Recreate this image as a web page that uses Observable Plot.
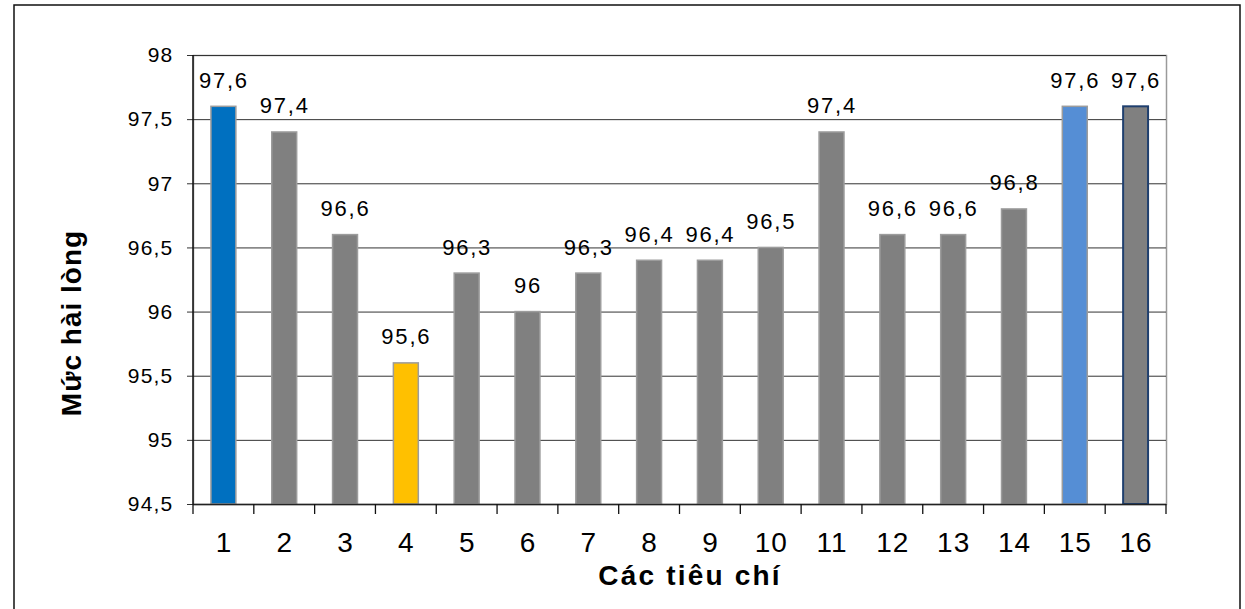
<!DOCTYPE html>
<html><head><meta charset="utf-8">
<script src="https://cdn.jsdelivr.net/npm/d3@7"></script>
<script src="https://cdn.jsdelivr.net/npm/@observablehq/plot@0.6"></script>
<style>
body{margin:0;background:#fff}
#chart svg{font-family:"Liberation Sans",Arial,sans-serif;display:block}
</style>
</head><body><div id="chart"></div>
<script>
const categories = ["1","2","3","4","5","6","7","8","9","10","11","12","13","14","15","16"];
const values = [97.6, 97.4, 96.6, 95.6, 96.3, 96.0, 96.3, 96.4, 96.4, 96.5, 97.4, 96.6, 96.6, 96.8, 97.6, 97.6];
const yTicks = [94.5, 95, 95.5, 96, 96.5, 97, 97.5, 98];
const yTitle = "Mức hài lòng";
const xTitle = "Các tiêu chí";

const fillFor = {"1": "#0070C0", "4": "#FFC000", "15": "#558ED5"};
const strokeFor = {"16": "#1F3F6E"};
const data = categories.map((c, i) => ({c, v: values[i]}));
const fmt = d => String(d).replace(".", ",");

const plot = Plot.plot({
  width: 1245, height: 609,
  marginLeft: 193, marginRight: 79, marginTop: 55, marginBottom: 105,
  style: {fontFamily: '"Liberation Sans", Arial, sans-serif', background: "#fff", color: "#000"},
  x: {domain: categories, paddingInner: 0.59, paddingOuter: 0.295, round: false, label: null},
  y: {domain: [94.5, 98], label: null},
  marks: [
    Plot.frame({stroke: "#9a9a9a", strokeWidth: 1.5}),
    Plot.ruleY(yTicks, {stroke: "#333", strokeWidth: 1}),
    Plot.axisY({ticks: yTicks, tickFormat: fmt, tickSize: 6, tickPadding: 14, fontSize: 21, stroke: "#333", className: "yax"}),
    Plot.axisX({tickSize: 0, tickPadding: 28, fontSize: 28, className: "xax"}),
    Plot.barY(data, {
      x: "c", y1: 94.5, y2: "v",
      fill: d => fillFor[d.c] || "#808080",
      stroke: d => strokeFor[d.c] || "#9c9c9c",
      strokeWidth: d => strokeFor[d.c] ? 2 : 1.5
    }),
    Plot.text(data, {x: "c", y: "v", text: d => fmt(d.v), lineAnchor: "bottom", dy: -19, fontSize: 22, className: "vals"}),
    Plot.ruleY([94.5], {stroke: "#222", strokeWidth: 1.5}),
    Plot.text([xTitle], {frameAnchor: "bottom", lineAnchor: "bottom", dx: 10, dy: 80, fontSize: 28, fontWeight: "bold", className: "xt"})
  ]
});

const svg = d3.select(plot);
svg.selectAll(".vals").attr("letter-spacing", "1.8px");
svg.selectAll(".xax").attr("letter-spacing", "1px");
svg.selectAll(".yax").attr("letter-spacing", "1.2px");
svg.selectAll(".xt").attr("letter-spacing", "2.2px");

// y axis title
svg.append("text").text(yTitle)
  .attr("transform", "translate(81,323) rotate(-90)")
  .attr("text-anchor", "middle")
  .attr("font-size", 28).attr("font-weight", "bold").attr("letter-spacing", "1px")
  .attr("fill", "#000");

// left axis line and band-boundary ticks on x axis
const sx = plot.scale("x");
const sy = plot.scale("y");
const gap = (sx.step - sx.bandwidth) / 2;
const bounds = categories.map(c => sx.apply(c) - gap);
bounds.push(sx.apply(categories[categories.length - 1]) + sx.bandwidth + gap);
const x0 = bounds[0];
const yb = sy.apply(94.5), yt = sy.apply(98);
svg.append("line").attr("x1", x0).attr("x2", x0).attr("y1", yt).attr("y2", yb)
  .attr("stroke", "#111").attr("stroke-width", 1.5);
svg.append("g").selectAll("line").data(bounds).join("line")
  .attr("x1", d => d).attr("x2", d => d).attr("y1", yb).attr("y2", yb + 10)
  .attr("stroke", "#111").attr("stroke-width", 1.3);
// outer border
svg.append("rect").attr("x", 14).attr("y", 5).attr("width", 1226).attr("height", 640)
  .attr("fill", "none").attr("stroke", "#111").attr("stroke-width", 1.5);

document.getElementById("chart").appendChild(plot);
</script>
</body></html>
